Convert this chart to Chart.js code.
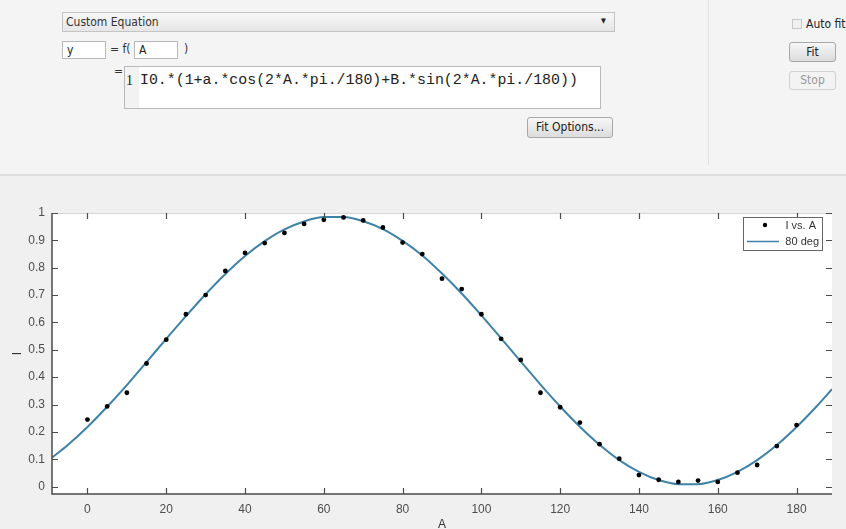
<!DOCTYPE html>
<html>
<head>
<meta charset="utf-8">
<script src="https://cdn.jsdelivr.net/npm/chart.js@4.4.1/dist/chart.umd.min.js"></script>
<style>
  body { margin: 0; width: 846px; height: 529px; overflow: hidden; background: #f0f0f0; position: relative;
         font-family: "Liberation Sans Narrow", "DejaVu Sans Condensed", "Liberation Sans", sans-serif; }
  .abs { position: absolute; box-sizing: border-box; }
  #top { left: 0; top: 0; width: 846px; height: 176px; background: #f4f4f4; border-bottom: 2px solid #dedede; }
  #sep { left: 708px; top: 0; width: 1px; height: 165px; background: #e2e2e2; }
  .box { background: #fff; border: 1px solid #b9b9b9; font-size: 12px; color: #222; padding-left: 4px; }
  .lbl { font-size: 12px; color: #333; }
  .btn { border: 1px solid #a8a8a8; border-radius: 3px; background: linear-gradient(#f7f7f7, #dcdcdc);
         font-size: 12px; color: #222; text-align: center; }
  #wrap { left: 0; top: 178px; width: 846px; height: 351px; }
</style>
</head>
<body>
<div id="top" class="abs"></div>
<div id="sep" class="abs"></div>

<div class="abs" style="left:62px;top:12px;width:553px;height:20px;border:1px solid #c4c4c4;background:linear-gradient(#f7f7f7,#e6e6e6);"></div>
<div class="abs lbl" style="left:66px;top:15px;">Custom Equation</div>
<div class="abs" style="left:601px;top:17px;font-size:7px;color:#222;">&#9660;</div>

<div class="abs box" style="left:62px;top:41px;width:44px;height:18px;line-height:16px;">y</div>
<div class="abs lbl" style="left:110px;top:42px;">= f(</div>
<div class="abs box" style="left:134px;top:41px;width:44px;height:18px;line-height:16px;">A</div>
<div class="abs lbl" style="left:184px;top:42px;">)</div>

<div class="abs lbl" style="left:114px;top:64px;">=</div>
<div class="abs box" style="left:124px;top:66px;width:477px;height:43px;padding:0;"></div>
<div class="abs" style="left:125px;top:67px;width:14px;height:41px;background:#f2f2f2;"></div>
<div class="abs" style="left:126px;top:73px;font-family:'Liberation Serif',serif;font-size:14px;color:#222;">1</div>
<div class="abs" style="left:140px;top:72px;font-family:'Liberation Mono',monospace;font-size:14.9px;color:#222;white-space:pre;">I0.*(1+a.*cos(2*A.*pi./180)+B.*sin(2*A.*pi./180))</div>

<div class="abs btn" style="left:527px;top:117px;width:86px;height:21px;line-height:19px;">Fit Options...</div>

<div class="abs" style="left:792px;top:19px;width:10px;height:10px;border:1px solid #c8c8c8;background:#f0f0f0;"></div>
<div class="abs lbl" style="left:806px;top:17px;color:#222;">Auto fit</div>
<div class="abs btn" style="left:789px;top:42px;width:47px;height:20px;line-height:18px;">Fit</div>
<div class="abs btn" style="left:789px;top:71px;width:47px;height:19px;line-height:17px;color:#9a9a9a;border-color:#d0d0d0;background:#f3f3f3;">Stop</div>

<div id="wrap" class="abs"><canvas id="fitChart" width="846" height="351"></canvas></div>

<script>
// measured points (A in degrees, I normalised)
const angles = [0, 5, 10, 15, 20, 25, 30, 35, 40, 45, 50, 55, 60, 65, 70, 75, 80, 85, 90,
                95, 100, 105, 110, 115, 120, 125, 130, 135, 140, 145, 150, 155, 160, 165, 170, 175, 180];
const intensity = [0.245, 0.293, 0.343, 0.45, 0.537, 0.63, 0.70, 0.788, 0.854, 0.89, 0.927, 0.96, 0.975,
                   0.984, 0.973, 0.947, 0.892, 0.85, 0.76, 0.722, 0.63, 0.54, 0.463, 0.343, 0.29, 0.234,
                   0.155, 0.102, 0.042, 0.025, 0.017, 0.022, 0.017, 0.051, 0.079, 0.148, 0.225];

// fitted curve
const fitAngles = [-9, -5, 0, 5, 10, 15, 20, 25, 30, 35, 40, 45, 50, 55, 60, 65, 70, 75, 80, 85, 90, 95,
                   100, 105, 110, 115, 120, 125, 130, 135, 140, 145, 150, 155, 160, 165, 170, 175, 180, 185, 189];
const fitValues = [0.106, 0.152, 0.218, 0.292, 0.371, 0.455, 0.54, 0.623, 0.703, 0.777, 0.843, 0.897,
                   0.94, 0.969, 0.985, 0.985, 0.97, 0.941, 0.898, 0.845, 0.779, 0.706, 0.626, 0.542,
                   0.457, 0.373, 0.293, 0.219, 0.153, 0.097, 0.054, 0.024, 0.009, 0.009, 0.024, 0.054,
                   0.097, 0.152, 0.218, 0.292, 0.356];

const xTicks = [0, 20, 40, 60, 80, 100, 120, 140, 160, 180];
const yTicks = [0, 0.1, 0.2, 0.3, 0.4, 0.5, 0.6, 0.7, 0.8, 0.9, 1];

const seriesLabel = 'I vs. A';
const fitLabel = '80 deg';
const xTitle = 'A';
const yTitle = 'I';

const axisFont = { family: 'Liberation Sans, Arial, sans-serif', size: 12 };

// white plot area, box, inward ticks, axis titles and legend like MATLAB
const matlabAxes = {
    id: 'matlabAxes',
    beforeDatasetsDraw(chart) {
        const a = chart.chartArea;
        const ctx = chart.ctx;
        ctx.save();
        ctx.fillStyle = '#ffffff';
        ctx.fillRect(a.left, a.top, a.right - a.left, a.bottom - a.top);
        ctx.restore();
    },
    afterDraw(chart) {
        const a = chart.chartArea;
        const ctx = chart.ctx;
        const xs = chart.scales.x, ys = chart.scales.y;
        ctx.save();
        // box
        ctx.strokeStyle = '#d6d6d6';
        ctx.lineWidth = 1;
        ctx.beginPath();
        ctx.moveTo(a.left, a.top + 0.5); ctx.lineTo(a.right, a.top + 0.5);
        ctx.stroke();
        ctx.strokeStyle = '#4a4a4a';
        ctx.lineWidth = 1.5;
        ctx.beginPath();
        ctx.moveTo(a.left, a.top); ctx.lineTo(a.left, a.bottom); ctx.lineTo(a.right, a.bottom);
        ctx.stroke();
        // ticks pointing inward
        ctx.lineWidth = 1.2;
        ctx.strokeStyle = '#4a4a4a';
        const t = 6;
        ctx.beginPath();
        xTicks.forEach(v => {
            const px = Math.round(xs.getPixelForValue(v)) + 0.5;
            ctx.moveTo(px, a.bottom); ctx.lineTo(px, a.bottom - t);
            ctx.moveTo(px, a.top); ctx.lineTo(px, a.top + t);
        });
        yTicks.forEach(v => {
            const py = Math.round(ys.getPixelForValue(v)) + 0.5;
            ctx.moveTo(a.left, py); ctx.lineTo(a.left + t, py);
            ctx.moveTo(a.right, py); ctx.lineTo(a.right - t, py);
        });
        ctx.stroke();

        // axis titles
        ctx.fillStyle = '#333';
        ctx.font = '12px Liberation Sans, Arial, sans-serif';
        ctx.textAlign = 'center';
        ctx.textBaseline = 'middle';
        ctx.fillText(xTitle, (a.left + a.right) / 2, a.bottom + 31);
        ctx.save();
        ctx.translate(18, (a.top + a.bottom) / 2);
        ctx.rotate(-Math.PI / 2);
        ctx.fillText(yTitle, 0, 0);
        ctx.restore();

        // legend
        const lx = a.right - 89, ly = a.top + 4, lw = 79, lh = 33;
        ctx.fillStyle = '#ffffff';
        ctx.fillRect(lx, ly, lw, lh);
        ctx.strokeStyle = '#666';
        ctx.lineWidth = 1;
        ctx.strokeRect(lx + 0.5, ly + 0.5, lw, lh);
        ctx.fillStyle = '#000';
        ctx.beginPath();
        ctx.arc(lx + 22, ly + 8, 2.2, 0, Math.PI * 2);
        ctx.fill();
        ctx.strokeStyle = '#3f82a8';
        ctx.lineWidth = 1.5;
        ctx.beginPath();
        ctx.moveTo(lx + 4, ly + 24.5); ctx.lineTo(lx + 36, ly + 24.5);
        ctx.stroke();
        ctx.fillStyle = '#333';
        ctx.font = '11px Liberation Sans, Arial, sans-serif';
        ctx.textAlign = 'right';
        ctx.fillText(seriesLabel, lx + lw - 6, ly + 9);
        ctx.fillText(fitLabel, lx + lw - 3, ly + 25);
        ctx.restore();
    }
};

const ctx = document.getElementById('fitChart').getContext('2d');
const fitChart = new Chart(ctx, {
    type: 'scatter',
    data: {
        datasets: [
            {
                label: seriesLabel,
                data: angles.map((a, i) => ({ x: a, y: intensity[i] })),
                pointRadius: 2.4,
                pointBackgroundColor: '#000',
                pointBorderColor: '#000',
                pointBorderWidth: 0,
                showLine: false,
                order: 0
            },
            {
                label: fitLabel,
                type: 'line',
                data: fitAngles.map((a, i) => ({ x: a, y: fitValues[i] })),
                borderColor: '#3f82a8',
                borderWidth: 2,
                pointRadius: 0,
                fill: false,
                cubicInterpolationMode: 'monotone',
                order: 1
            }
        ]
    },
    options: {
        responsive: false,
        animation: false,
        events: [],
        layout: { padding: { top: 35, right: 14, left: 0, bottom: 0 } },
        plugins: {
            legend: { display: false },
            tooltip: { enabled: false }
        },
        scales: {
            x: {
                type: 'linear',
                min: -9,
                max: 189,
                afterBuildTicks: s => { s.ticks = xTicks.map(v => ({ value: v })); },
                afterFit: s => { s.height = 35; },
                ticks: { color: '#4d4d4d', font: axisFont, padding: 8, maxRotation: 0 },
                grid: { color: '#e4e4e4', drawTicks: false },
                border: { display: false }
            },
            y: {
                type: 'linear',
                min: -0.027,
                max: 1.0,
                afterBuildTicks: s => { s.ticks = yTicks.map(v => ({ value: v })); },
                afterFit: s => { s.width = 52; },
                ticks: { color: '#4d4d4d', font: axisFont, padding: 7, callback: v => String(Math.round(v * 10) / 10) },
                grid: { color: '#e4e4e4', drawTicks: false },
                border: { display: false }
            }
        }
    },
    plugins: [matlabAxes]
});
</script>
</body>
</html>
